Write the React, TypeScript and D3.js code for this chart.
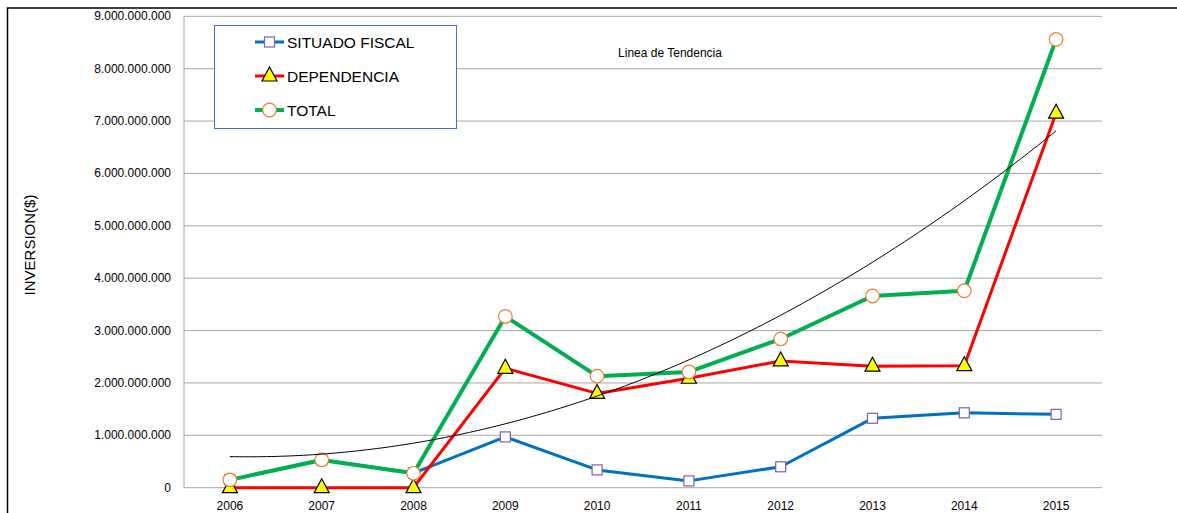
import React, { useEffect, useRef } from "react";
import * as d3 from "d3";

const years = ["2006", "2007", "2008", "2009", "2010", "2011", "2012", "2013", "2014", "2015"];
const situadoFiscal = [0.15e9, 0.53e9, 0.28e9, 0.97e9, 0.34e9, 0.13e9, 0.4e9, 1.325e9, 1.43e9, 1.4e9];
const dependencia = [0, 0, 0, 2.28e9, 1.8e9, 2.09e9, 2.42e9, 2.32e9, 2.33e9, 7.15e9];
const total = [0.15e9, 0.53e9, 0.275e9, 3.27e9, 2.13e9, 2.21e9, 2.84e9, 3.66e9, 3.76e9, 8.56e9];
const yTicks = [0, 1e9, 2e9, 3e9, 4e9, 5e9, 6e9, 7e9, 8e9, 9e9];

// quadratic least squares fit, like the Excel polynomial trendline
function quadFit(ys: number[]) {
  const s = [0, 0, 0, 0, 0];
  const t = [0, 0, 0];
  ys.forEach((y, x) => {
    for (let k = 0; k < 5; k++) s[k] += Math.pow(x, k);
    for (let k = 0; k < 3; k++) t[k] += Math.pow(x, k) * y;
  });
  const m = [
    [s[0], s[1], s[2], t[0]],
    [s[1], s[2], s[3], t[1]],
    [s[2], s[3], s[4], t[2]],
  ];
  for (let i = 0; i < 3; i++) {
    for (let j = i + 1; j < 3; j++) {
      const f = m[j][i] / m[i][i];
      for (let k = i; k < 4; k++) m[j][k] -= f * m[i][k];
    }
  }
  const c = [0, 0, 0];
  for (let i = 2; i >= 0; i--) {
    let v = m[i][3];
    for (let k = i + 1; k < 3; k++) v -= m[i][k] * c[k];
    c[i] = v / m[i][i];
  }
  return (x: number) => c[0] + c[1] * x + c[2] * x * x;
}

const fmt = (v: number) => d3.format(",")(v).replace(/,/g, ".");

export default function App() {
  const svgRef = useRef<SVGSVGElement>(null);

  useEffect(() => {
    if (!svgRef.current) return;
    const svg = d3.select(svgRef.current);
    svg.selectAll("*").remove();

    const width = 1177;
    const height = 513;
    const plot = { left: 184, right: 1102, top: 16.3, bottom: 487.7 };
    const font = "'Liberation Sans', Arial, sans-serif";

    svg.append("rect").attr("width", width).attr("height", height).attr("fill", "#fff");

    // outer chart border (only top and left are in view)
    svg.append("path")
      .attr("d", `M7.5,${height} V8 H${width}`)
      .attr("fill", "none")
      .attr("stroke", "#000")
      .attr("stroke-width", 1.5);

    const x = d3.scaleBand().domain(years).range([plot.left, plot.right]).padding(0);
    const xc = (d: string) => (x(d) ?? 0) + x.bandwidth() / 2;
    const xi = d3.scaleLinear().domain([0, years.length - 1]).range([xc(years[0]), xc(years[years.length - 1])]);
    const y = d3.scaleLinear().domain([0, 9e9]).range([plot.bottom, plot.top]);

    // grid
    svg.append("g")
      .selectAll("line")
      .data(yTicks)
      .enter()
      .append("line")
      .attr("x1", plot.left)
      .attr("x2", plot.right)
      .attr("y1", (d) => y(d))
      .attr("y2", (d) => y(d))
      .attr("stroke", "#a6a6a6")
      .attr("stroke-width", 1);

    svg.append("line")
      .attr("x1", plot.left).attr("x2", plot.left)
      .attr("y1", plot.top).attr("y2", plot.bottom)
      .attr("stroke", "#a6a6a6");

    // y labels
    svg.append("g")
      .selectAll("text")
      .data(yTicks)
      .enter()
      .append("text")
      .attr("x", 171)
      .attr("y", (d) => y(d) + 4)
      .attr("text-anchor", "end")
      .attr("font-family", font)
      .attr("font-size", 12)
      .attr("fill", "#000")
      .text((d) => fmt(d));

    // x labels
    svg.append("g")
      .selectAll("text")
      .data(years)
      .enter()
      .append("text")
      .attr("x", (d) => xc(d))
      .attr("y", 510)
      .attr("text-anchor", "middle")
      .attr("font-family", font)
      .attr("font-size", 12)
      .attr("fill", "#000")
      .text((d) => d);

    svg.append("text")
      .attr("transform", "translate(35,245) rotate(-90)")
      .attr("text-anchor", "middle")
      .attr("font-family", font)
      .attr("font-size", 15)
      .text("INVERSION($)");

    svg.append("text")
      .attr("x", 670)
      .attr("y", 57)
      .attr("text-anchor", "middle")
      .attr("font-family", font)
      .attr("font-size", 12)
      .text("Linea de Tendencia");

    const line = d3.line<number>().x((_, i) => xc(years[i])).y((d) => y(d));

    const series = [
      { data: situadoFiscal, color: "#0070c0", width: 3, marker: "square" },
      { data: dependencia, color: "#ff0000", width: 3, marker: "triangle" },
      { data: total, color: "#00b050", width: 4, marker: "circle" },
    ];

    const drawMarker = (g: d3.Selection<SVGGElement, unknown, null, undefined>, kind: string, cx: number, cy: number) => {
      if (kind === "square") {
        g.append("rect")
          .attr("x", cx - 5).attr("y", cy - 5).attr("width", 10).attr("height", 10)
          .attr("fill", "#fff").attr("stroke", "#7a62a8").attr("stroke-width", 1.2);
      } else if (kind === "triangle") {
        g.append("path")
          .attr("d", `M${cx},${cy - 9} L${cx + 7.5},${cy + 5} L${cx - 7.5},${cy + 5} Z`)
          .attr("fill", "#ffff00").attr("stroke", "#000").attr("stroke-width", 1.2);
      } else {
        g.append("circle")
          .attr("cx", cx).attr("cy", cy).attr("r", 6.8)
          .attr("fill", "#fff").attr("stroke", "#ed7d31").attr("stroke-width", 1.2);
      }
    };

    series.forEach((s) => {
      const g = svg.append("g");
      g.append("path")
        .datum(s.data)
        .attr("d", line)
        .attr("fill", "none")
        .attr("stroke", s.color)
        .attr("stroke-width", s.width)
        .attr("stroke-linejoin", "round");
      s.data.forEach((v, i) => drawMarker(g, s.marker, xc(years[i]), y(v)));
    });

    // trend line (polynomial order 2 on TOTAL)
    const trend = quadFit(total);
    const samples = d3.range(0, years.length - 1 + 0.001, 0.05);
    svg.append("path")
      .datum(samples)
      .attr("d", d3.line<number>().x((d) => xi(d)).y((d) => y(trend(d))))
      .attr("fill", "none")
      .attr("stroke", "#000")
      .attr("stroke-width", 1);

    // legend
    const lg = svg.append("g");
    lg.append("rect")
      .attr("x", 214.5).attr("y", 25.5).attr("width", 242).attr("height", 103)
      .attr("fill", "#fff").attr("stroke", "#4472c4").attr("stroke-width", 1);
    const rows = [
      { label: "SITUADO FISCAL", ...series[0], ly: 42 },
      { label: "DEPENDENCIA", ...series[1], ly: 76 },
      { label: "TOTAL", ...series[2], ly: 110 },
    ];
    rows.forEach((r) => {
      const g = lg.append("g");
      g.append("line")
        .attr("x1", 255).attr("x2", 284).attr("y1", r.ly).attr("y2", r.ly)
        .attr("stroke", r.color).attr("stroke-width", r.width);
      drawMarker(g, r.marker, 269.5, r.ly);
      g.append("text")
        .attr("x", 287).attr("y", r.ly + 5.5)
        .attr("font-family", font).attr("font-size", 15.5)
        .text(r.label);
    });
  }, []);

  return (
    <svg
      ref={svgRef}
      width={1177}
      height={513}
      style={{ position: "absolute", left: 0, top: 0, display: "block" }}
    />
  );
}
